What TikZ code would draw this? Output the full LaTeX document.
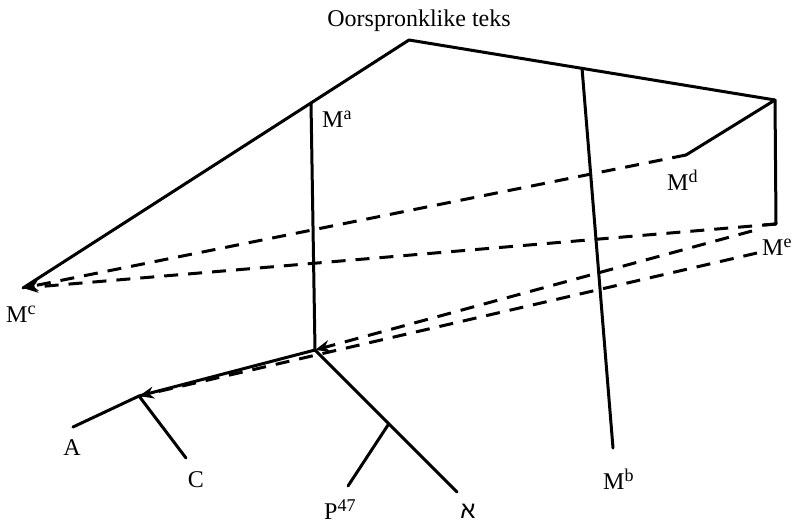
\documentclass[tikz,border=0pt]{standalone}
\usepackage{fontspec}
\setmainfont{Liberation Serif}
\newfontfamily\hebfont[Script=Hebrew]{Liberation Sans}
\usetikzlibrary{arrows.meta}
\tikzset{
  % solid lines of descent
  stem/.style={line width=3pt, line cap=round, line join=round},
  % contamination: dashed, with the tip at the receiving copy
  mix/.style={line width=3pt, dash pattern=on 14pt off 10pt,
    -{Stealth[length=15pt,width=12pt,inset=5pt]}},
  lbl/.style={font=\fontsize{24}{26}\selectfont, inner sep=0pt},
}
\newcommand{\Msig}[1]{M\raisebox{0.3em}{\fontsize{18}{18}\selectfont #1}}

\begin{document}
\begin{tikzpicture}[x=1pt, y=-1pt]
\useasboundingbox (0,0) rectangle (794,527);

% points of the stemma
\coordinate (orig) at (409,40);
\coordinate (rc)   at (775,100);
\coordinate (mc)   at (23,288);
\coordinate (mat)  at (311,103);
\coordinate (ma)   at (315,350);
\coordinate (mbt)  at (582,68);
\coordinate (mb)   at (613,448);
\coordinate (md)   at (686,155);
\coordinate (me)   at (776,224);
\coordinate (me1)  at (752,231);
\coordinate (me2)  at (757,253);
\coordinate (ac)   at (139,396);
\coordinate (a)    at (73,427);
\coordinate (c)    at (186,458);
\coordinate (pj)   at (388,425);
\coordinate (p)    at (348,486);
\coordinate (alef) at (457,492);

% labels
\node[lbl, anchor=base] (title) at (419,27) {Oorspronklike teks};
\node[lbl, anchor=base west] (tMa) at (322,127) {\Msig{a}};
\node[lbl, anchor=base west] (tMb) at (603,489) {\Msig{b}};
\node[lbl, anchor=base west] (tMc) at (6,322) {\Msig{c}};
\node[lbl, anchor=base west] (tMd) at (667,190) {\Msig{d}};
\node[lbl, anchor=base west] (tMe) at (762,255) {\Msig{e}};
\node[lbl, anchor=base] (tA) at (72,455) {A};
\node[lbl, anchor=base] (tC) at (196,487) {C};
\node[lbl, anchor=base west] (tP) at (324,519) {P\raisebox{0.3em}{\fontsize{18}{18}\selectfont 47}};
\node[lbl, anchor=base] (tAlef) at (468,518) {\hebfont א};

% descent
\draw[stem] (mc) -- (orig) -- (rc) -- (me) -- ++(-12,1);
\draw[stem] (rc) -- (md);
\draw[stem] (mat) -- (ma);
\draw[stem] (mbt) -- (mb);
\draw[stem] (a) -- (ac) -- (ma) -- (alef);
\draw[stem] (ac) -- (c);
\draw[stem] (pj) -- (p);

% mixture
\draw[mix] (md) -- (mc);
\draw[mix] (me) -- (mc);
\draw[mix] (me1) -- (ma);
\draw[mix] (me2) -- (ac);
\end{tikzpicture}
\end{document}
